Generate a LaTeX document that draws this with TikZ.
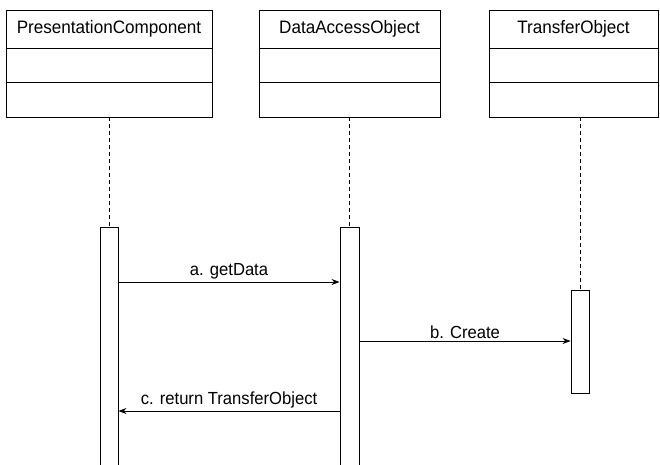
\documentclass[tikz,border=0pt]{standalone}
\usepackage{fontspec}
\setmainfont[FakeStretch=0.95]{Liberation Sans}
\usetikzlibrary{arrows.meta,positioning}
\tikzset{
  classhead/.style={draw,line width=.9pt,outer sep=0pt,minimum height=38pt,inner sep=0pt,font=\fontsize{18}{20}\selectfont},
  compart/.style={draw,line width=.9pt,outer sep=0pt,minimum height=34.5pt,inner sep=0pt},
  actbar/.style={draw,line width=.9pt,fill=white,minimum width=18pt,inner sep=0pt},
  lifeline/.style={line width=.8pt,dash pattern=on 4pt off 3pt},
  msg/.style={line width=.8pt,-{Stealth[length=8pt,width=6pt]}},
  msglabel/.style={above=1pt,inner sep=1pt,font=\fontsize{17.5}{19}\selectfont}
}
\begin{document}
\begin{tikzpicture}[x=1pt,y=-1pt]
\useasboundingbox (0,0) rectangle (660,464);
\clip (0,0) rectangle (660,464);

% classes
\node[classhead,minimum width=206pt] (pc) at (109,29) {PresentationComponent};
\node[compart,minimum width=206pt,below=0pt of pc] (pc1) {};
\node[compart,minimum width=206pt,below=0pt of pc1] (pc2) {};

\node[classhead,minimum width=181pt] (dao) at (349.5,29) {DataAccessObject};
\node[compart,minimum width=181pt,below=0pt of dao] (dao1) {};
\node[compart,minimum width=181pt,below=0pt of dao1] (dao2) {};

\node[classhead,minimum width=169pt] (to) at (573.5,29) {TransferObject};
\node[compart,minimum width=169pt,below=0pt of to] (to1) {};
\node[compart,minimum width=169pt,below=0pt of to1] (to2) {};

% activations
\node[actbar,minimum height=250pt,anchor=north] (barpc) at (109,227) {};
\node[actbar,minimum height=250pt,anchor=north,minimum width=19pt] (bardao) at (349.5,227) {};
\node[actbar,minimum height=103pt,anchor=north] (barto) at (580,290) {};

\draw[lifeline] (barpc.north |- pc2.south) -- (barpc.north);
\draw[lifeline] (bardao.north |- dao2.south) -- (bardao.north);
\draw[lifeline] (barto.north |- to2.south) -- (barto.north);

% messages
\draw[msg] (barpc.east |- 0,282) -- node[msglabel]{a. getData} (bardao.west |- 0,282);
\draw[msg] (bardao.east |- 0,341) -- node[msglabel]{b. Create} (barto.west |- 0,341);
\draw[msg] (bardao.west |- 0,411) -- node[msglabel]{c. return TransferObject} (barpc.east |- 0,411);
\end{tikzpicture}
\end{document}
